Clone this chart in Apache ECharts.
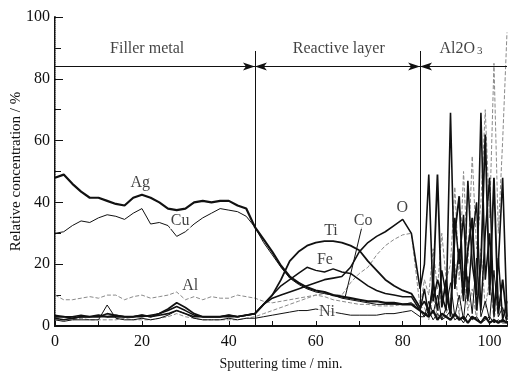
<!DOCTYPE html>
<html>
<head>
<meta charset="utf-8">
<script src="https://cdn.jsdelivr.net/npm/echarts@6/dist/echarts.min.js"></script>
<style>
  html, body { margin: 0; padding: 0; background: #fff; }
  #main { width: 508px; height: 371px; }
</style>
</head>
<body>
<div id="main"></div>
<script>
// sputtering time (min): every 2 min up to 84, then every minute in the Al2O3 part
const time = [0, 2, 4, 6, 8, 10, 12, 14, 16, 18, 20, 22, 24, 26, 28, 30, 32, 34, 36, 38,
  40, 42, 44, 46, 48, 50, 52, 54, 56, 58, 60, 62, 64, 66, 68, 70, 72, 74, 76, 78, 80, 82, 84,
  85, 86, 87, 88, 89, 90, 91, 92, 93, 94, 95, 96, 97, 98, 99, 100, 101, 102, 103, 104];

// relative concentration (%)
const ag = [48, 49, 46, 43.5, 41.5, 41.5, 40.5, 39.5, 39, 41.5, 42.5, 41.5, 40, 38, 37.5, 38, 40, 40.5, 40, 40.5,
  40.5, 39, 38, 32, 28, 24, 19.5, 16, 14, 12.5, 11.5, 11, 10, 9.5, 9, 8.5, 8, 8, 7.5, 7.5, 7, 7, 5,
  4, 3, 5, 2, 4, 3, 2, 4, 2, 3, 1, 3, 2, 1, 3, 1, 2, 1, 2, 1];
const cu = [30, 30.5, 32.5, 34, 33.5, 35, 36, 35.5, 34.5, 36.5, 38, 33, 33.5, 32.5, 29, 30.5, 33, 35, 36.5, 38,
  37.5, 37, 35.5, 32, 27, 23, 19, 15.5, 13.5, 12, 11, 10.5, 10, 9, 8.5, 8, 7.5, 7, 7, 7, 7, 7.5, 5,
  3, 5, 2, 4, 2, 3, 5, 2, 3, 1, 4, 2, 3, 1, 2, 3, 1, 2, 1, 1];
const ti = [3, 3, 2.5, 3, 3, 3.5, 3, 3, 3, 3, 3.5, 3, 4, 5.5, 7.5, 6, 4, 3, 3, 3,
  3.5, 3, 3.5, 4, 7, 10, 15, 21, 24, 26, 27, 27.5, 27.5, 27, 26, 24.5, 21, 18, 15, 13, 11.5, 10.5, 6,
  8, 5, 12, 49, 6, 15, 3, 30, 42, 10, 25, 35, 5, 20, 62, 10, 48, 4, 15, 2];
const fe = [2.5, 2, 2.5, 3, 3, 3, 3, 3.5, 3, 3, 3, 3.5, 4, 5, 6.3, 5, 3.5, 3, 3, 3,
  3, 3, 3.5, 4, 7, 10, 13, 15, 17, 19, 18, 17.5, 18.5, 17.5, 17, 15, 13, 11.5, 10.5, 10, 9.5, 9.5, 5,
  12, 3, 15, 5, 18, 10, 4, 35, 20, 36, 8, 28, 40, 5, 30, 48, 3, 22, 2, 8];
const oxy = [3.5, 3, 3, 3.5, 3, 3, 4, 3.5, 3, 3, 3.5, 3, 3.5, 4, 5, 4, 3, 3, 3, 3,
  3.5, 3, 3.5, 4, 7, 9, 10, 11, 12, 13, 14, 15, 15.5, 16, 19, 24, 27, 29, 30.5, 32.5, 34.5, 30, 12,
  20, 49, 8, 15, 10, 5, 69, 12, 25, 8, 47, 20, 10, 69, 15, 30, 5, 20, 48, 3];
const co = [2, 2, 2, 2.5, 2, 2, 2, 2, 2.5, 2, 2, 2, 2.5, 3, 4, 3, 2.5, 2, 2, 2,
  2, 2, 2.5, 3, 4, 5, 6, 7, 8, 9, 10, 10.5, 10, 10, 14, 17, 19, 23, 26, 28, 29.5, 30, 6,
  6, 2, 10, 3, 12, 4, 8, 20, 3, 18, 5, 12, 2, 25, 6, 15, 2, 10, 3, 5];
const ni = [2, 1.5, 2, 2, 2, 2, 6.8, 2.5, 2, 2, 2.5, 2, 2.5, 3.5, 5, 4, 2.5, 2, 2, 2,
  2.5, 2, 2.5, 2.5, 3, 3.5, 4, 4.5, 5, 5, 5.5, 5, 4.5, 4, 3.5, 3.5, 3.5, 3.5, 4, 4, 4.5, 5, 3,
  3, 8, 4, 10, 2, 6, 14, 3, 10, 2, 16, 4, 22, 3, 8, 2, 18, 3, 6, 1];
const al = [10, 8.5, 8.5, 9, 9.5, 9, 10, 10, 8.5, 9.5, 10, 9, 9.5, 10, 11, 8.5, 9.5, 8.5, 9.5, 9,
  9, 10, 9.5, 9, 8, 7.5, 8, 8.5, 9, 9.5, 10, 9.5, 8.5, 8, 7.5, 7, 7, 6.5, 6.5, 6.5, 7, 7.5, 6,
  15, 10, 25, 12, 30, 15, 20, 45, 15, 50, 20, 55, 25, 40, 70, 35, 85, 30, 60, 95];

// curve labels
const tagNames = ['Ag', 'Cu', 'Al', 'Ti', 'Fe', 'Co', 'O', 'Ni'];
const tagX = [19.6, 28.8, 31.1, 63.5, 62.1, 70.9, 79.9, 62.6];
const tagY = [46.3, 34, 13, 30.7, 21.4, 34, 38.2, 4.5];

// region labels
const zoneNames = ['Filler metal', 'Reactive layer', 'Al2O{s|3}'];
const zoneX = [21.2, 65.3, 93.4];
const zoneY = [89.6, 89.6, 89.6];
const zoneEdges = [46, 84];

const serif = "'Times New Roman', 'Liberation Serif', serif";
const pts = arr => time.map((t, i) => [t, arr[i]]);

const chart = echarts.init(document.getElementById('main'));

function curve(name, arr, width, color, dashed) {
  return {
    name: name,
    type: 'line',
    data: pts(arr),
    symbol: 'none',
    lineStyle: { width: width, color: color, type: dashed ? 'dashed' : 'solid' },
    z: dashed ? 2 : 3
  };
}

const arrowEnd = { symbol: 'arrow', symbolSize: [6, 12] };
const agSeries = curve('Ag', ag, 2.2, '#111', false);
agSeries.markLine = {
  silent: true,
  symbol: 'none',
  label: { show: false },
  lineStyle: { color: '#111', width: 1, type: 'solid' },
  data: [
    [{ coord: [zoneEdges[0], 0] }, { coord: [zoneEdges[0], 89] }],
    [{ coord: [zoneEdges[1], 0] }, { coord: [zoneEdges[1], 89] }],
    [{ coord: [0, 84], symbol: 'none' }, Object.assign({ coord: [zoneEdges[0], 84] }, arrowEnd)],
    [Object.assign({ coord: [zoneEdges[0], 84] }, arrowEnd), Object.assign({ coord: [zoneEdges[1], 84] }, arrowEnd)],
    [Object.assign({ coord: [zoneEdges[1], 84] }, arrowEnd), { coord: [104, 84], symbol: 'none' }],
    // Co leader line
    [{ coord: [70.6, 32] }, { coord: [66.7, 9] }]
  ]
};

chart.setOption({
  animation: false,
  backgroundColor: '#fff',
  grid: { left: 55, right: 1, top: 17, bottom: 45, outerBoundsMode: 'none', containLabel: false },
  xAxis: [{
    type: 'value',
    min: 0,
    max: 104,
    interval: 20,
    name: 'Sputtering time / min.',
    nameLocation: 'middle',
    nameGap: 31,
    nameMoveOverlap: false,
    nameTextStyle: { fontFamily: serif, fontSize: 14, color: '#111' },
    axisLine: { lineStyle: { color: '#111', width: 1.5 } },
    axisTick: { inside: true, length: 5, lineStyle: { color: '#111' } },
    minorTick: { show: true, splitNumber: 2, length: 5, lineStyle: { color: '#111' } },
    axisLabel: { fontFamily: serif, fontSize: 16, color: '#111', margin: 8, showMaxLabel: false },
    splitLine: { show: false }
  }, {
    type: 'value',
    position: 'top',
    min: 0,
    max: 104,
    axisLine: { show: true, lineStyle: { color: '#111', width: 2 } },
    axisTick: { show: false },
    axisLabel: { show: false },
    splitLine: { show: false }
  }],
  yAxis: [{
    type: 'value',
    min: 0,
    max: 100,
    interval: 20,
    name: 'Relative concentration / %',
    nameLocation: 'middle',
    nameGap: 31,
    nameMoveOverlap: false,
    nameTextStyle: { fontFamily: serif, fontSize: 15, color: '#111' },
    axisLine: { show: true, lineStyle: { color: '#111', width: 2 } },
    axisTick: { inside: true, length: 8, lineStyle: { color: '#111' } },
    minorTick: { show: true, splitNumber: 2, length: 6, lineStyle: { color: '#111' } },
    axisLabel: { fontFamily: serif, fontSize: 16, color: '#111', margin: 5 },
    splitLine: { show: false }
  }, {
    type: 'value',
    position: 'right',
    min: 0,
    max: 100,
    axisLine: { show: true, lineStyle: { color: '#999', width: 1, type: 'dotted' } },
    axisTick: { show: false },
    axisLabel: { show: false },
    splitLine: { show: false }
  }],
  series: [
    curve('Al', al, 1, '#8a8a8a', true),
    curve('Co', co, 1, '#8a8a8a', true),
    curve('Ni', ni, 1, '#111', false),
    curve('O', oxy, 1.6, '#111', false),
    curve('Fe', fe, 1.5, '#111', false),
    curve('Ti', ti, 1.8, '#111', false),
    curve('Cu', cu, 1, '#111', false),
    agSeries,
    {
      name: 'tags',
      type: 'scatter',
      symbolSize: 0,
      silent: true,
      z: 5,
      data: tagNames.map((n, i) => [tagX[i], tagY[i], n]),
      label: {
        show: true,
        position: 'inside',
        formatter: p => p.data[2],
        fontFamily: serif,
        fontSize: 16,
        color: '#111',
        backgroundColor: '#fff',
        padding: [0, 1]
      }
    },
    {
      name: 'zones',
      type: 'scatter',
      symbolSize: 0,
      silent: true,
      z: 5,
      data: zoneNames.map((n, i) => [zoneX[i], zoneY[i], n]),
      label: {
        show: true,
        position: 'inside',
        formatter: p => p.data[2],
        fontFamily: serif,
        fontSize: 16,
        color: '#111',
        rich: { s: { fontFamily: serif, fontSize: 11, color: '#111', padding: [4, 0, 0, 2] } }
      }
    }
  ]
});
</script>
</body>
</html>
